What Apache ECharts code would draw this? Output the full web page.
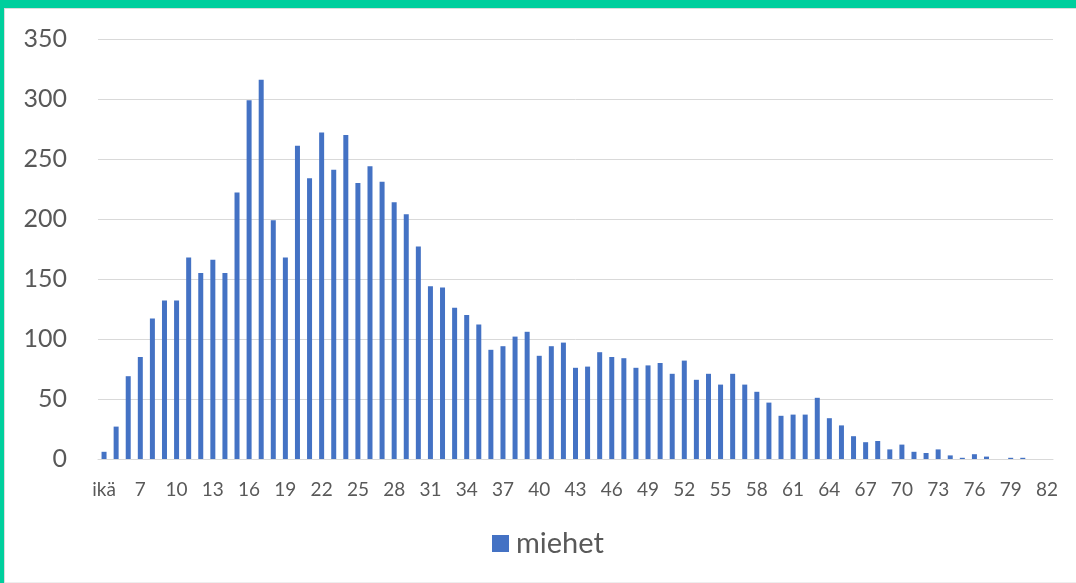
<!DOCTYPE html>
<html>
<head>
<meta charset="utf-8">
<script src="https://cdn.jsdelivr.net/npm/echarts@6/dist/echarts.min.js"></script>
<style>
  html, body { margin: 0; padding: 0; background: #fff; }
  #chart { position: absolute; left: 0; top: 0; width: 1076px; height: 583px; }
  .frame { position: absolute; pointer-events: none; }
</style>
</head>
<body>
<div id="chart"></div>
<!-- green frame round the picture -->
<div class="frame" style="left:0;top:0;width:1076px;height:8px;background:#00cf9d;"></div>
<div class="frame" style="left:0;top:8px;width:1076px;height:1px;background:#dcdcdc;"></div>
<div class="frame" style="left:0;top:0;width:4px;height:583px;background:#00cf9d;"></div>
<div class="frame" style="left:4px;top:9px;width:1px;height:574px;background:#dcdcdc;"></div>
<div class="frame" style="left:5px;top:582px;width:1071px;height:1px;background:#eeeeee;"></div>
<script>
// ages: first category is the header "ikä", then 5..82
const ages = ['ikä'];
for (let a = 5; a <= 82; a++) ages.push(String(a));

const miehet = [
  6, 27, 69, 85, 117, 132, 132, 168, 155, 166,
  155, 222, 299, 316, 199, 168, 261, 234, 272, 241,
  270, 230, 244, 231, 214, 204, 177, 144, 143, 126,
  120, 112, 91, 94, 102, 106, 86, 94, 97, 76,
  77, 89, 85, 84, 76, 78, 80, 71, 82, 66,
  71, 62, 71, 62, 56, 47, 36, 37, 37, 51,
  34, 28, 19, 14, 15, 8, 12, 6, 5, 8,
  3, 1, 4, 2, 0, 1, 1, 0, 0
];

const yTicks = [0, 50, 100, 150, 200, 250, 300, 350];

const chart = echarts.init(document.getElementById('chart'));
chart.setOption({
  animation: false,
  textStyle: { fontFamily: 'Lato' },
  grid: { left: 98, right: 23, top: 39, bottom: 124 },
  legend: {
    bottom: 20,
    left: 487,
    itemWidth: 17,
    itemHeight: 17,
    itemGap: 10,
    icon: 'rect',
    textStyle: { fontFamily: 'Lato', fontSize: 29, color: '#595959', padding: [0, 0, 0, 2] },
    data: ['miehet']
  },
  xAxis: {
    type: 'category',
    data: ages,
    axisLine: { lineStyle: { color: '#d9d9d9', width: 1 } },
    axisTick: { show: false },
    axisLabel: {
      interval: 2,
      margin: 21,
      fontFamily: 'Lato',
      fontSize: 19,
      color: '#595959'
    }
  },
  yAxis: {
    type: 'value',
    min: yTicks[0],
    max: yTicks[yTicks.length - 1],
    interval: 50,
    axisLine: { show: false },
    axisTick: { show: false },
    splitLine: { lineStyle: { color: '#d9d9d9', width: 1 } },
    axisLabel: {
      margin: 31,
      fontFamily: 'Lato',
      fontSize: 25,
      color: '#595959'
    }
  },
  series: [{
    name: 'miehet',
    type: 'bar',
    data: miehet,
    barWidth: 5,
    itemStyle: { color: '#4472c4' }
  }]
});
</script>
</body>
</html>
